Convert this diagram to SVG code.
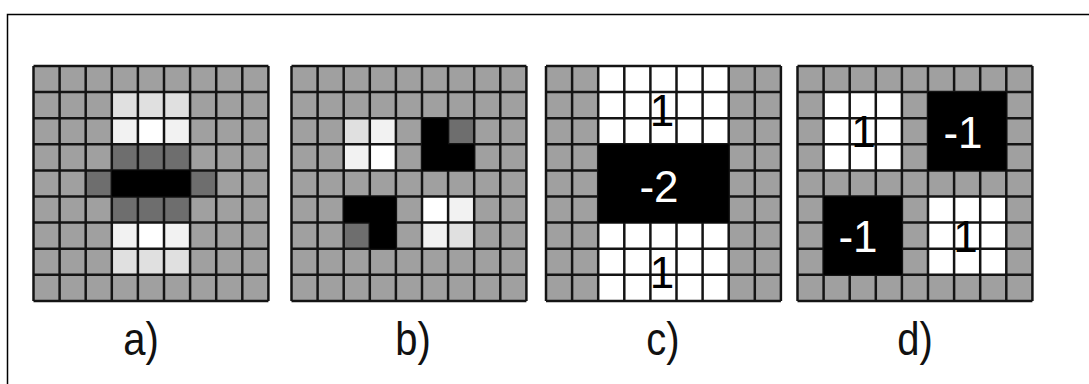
<svg xmlns="http://www.w3.org/2000/svg" xmlns:xlink="http://www.w3.org/1999/xlink" width="1089" height="384" viewBox="0 0 1089 384">
<style>
.bg{fill:#a0a0a0}
.l1{fill:#e0e0e0}
.l2{fill:#f2f2f2}
.w{fill:#ffffff}
.d{fill:#6e6e6e}
.k{fill:#000000}
.grid{fill:none;stroke:#141414;stroke-width:2.5}
.num{font-family:"Liberation Sans",Arial,sans-serif;font-size:44px;text-anchor:middle}
.lab{font-family:"Liberation Sans",Arial,sans-serif;font-size:40px;text-anchor:middle;fill:#111}
</style>
<defs>
<path id="lines" class="grid" d="M0,0V234.9M26.1,0V234.9M52.2,0V234.9M78.3,0V234.9M104.4,0V234.9M130.5,0V234.9M156.6,0V234.9M182.7,0V234.9M208.8,0V234.9M234.9,0V234.9M0,0H234.9M0,26.1H234.9M0,52.2H234.9M0,78.3H234.9M0,104.4H234.9M0,130.5H234.9M0,156.6H234.9M0,182.7H234.9M0,208.8H234.9M0,234.9H234.9"/>
</defs>
<rect width="1089" height="384" fill="#ffffff"/>
<path d="M7.5,384V14.5H1089" fill="none" stroke="#000" stroke-width="1.5"/>

<g id="panel-a" transform="translate(33.5,66)">
<rect class="bg" width="234.9" height="234.9"/>
<rect class="l1" x="78.3" y="26.1" width="78.3" height="26.1"/>
<rect class="l2" x="78.3" y="52.2" width="26.1" height="26.1"/>
<rect class="w" x="104.4" y="52.2" width="26.1" height="26.1"/>
<rect class="l2" x="130.5" y="52.2" width="26.1" height="26.1"/>
<rect class="d" x="78.3" y="78.3" width="78.3" height="26.1"/>
<rect class="d" x="52.2" y="104.4" width="26.1" height="26.1"/>
<rect class="d" x="156.6" y="104.4" width="26.1" height="26.1"/>
<rect class="d" x="78.3" y="130.5" width="78.3" height="26.1"/>
<rect class="l2" x="78.3" y="156.6" width="26.1" height="26.1"/>
<rect class="w" x="104.4" y="156.6" width="26.1" height="26.1"/>
<rect class="l2" x="130.5" y="156.6" width="26.1" height="26.1"/>
<rect class="l1" x="78.3" y="182.7" width="78.3" height="26.1"/>
<use xlink:href="#lines"/>
<rect class="k" x="78.3" y="104.4" width="78.3" height="26.1"/>
</g>
<text class="lab" transform="translate(141,355) scale(1,1.15)">a)</text>

<g id="panel-b" transform="translate(291.5,66)">
<rect class="bg" width="234.9" height="234.9"/>
<rect class="l1" x="52.2" y="52.2" width="26.1" height="26.1"/>
<rect class="l2" x="78.3" y="52.2" width="26.1" height="26.1"/>
<rect class="d" x="156.6" y="52.2" width="26.1" height="26.1"/>
<rect class="l2" x="52.2" y="78.3" width="26.1" height="26.1"/>
<rect class="w" x="78.3" y="78.3" width="26.1" height="26.1"/>
<rect class="w" x="130.5" y="130.5" width="26.1" height="26.1"/>
<rect class="l2" x="156.6" y="130.5" width="26.1" height="26.1"/>
<rect class="d" x="52.2" y="156.6" width="26.1" height="26.1"/>
<rect class="l2" x="130.5" y="156.6" width="26.1" height="26.1"/>
<rect class="l1" x="156.6" y="156.6" width="26.1" height="26.1"/>
<use xlink:href="#lines"/>
<path class="k" d="M130.5,52.2H156.6V78.3H182.7V104.4H130.5Z"/>
<path class="k" d="M52.2,130.5H104.4V182.7H78.3V156.6H52.2Z"/>
</g>
<text class="lab" transform="translate(413,355) scale(1,1.15)">b)</text>

<g id="panel-c" transform="translate(546,66)">
<rect class="bg" width="234.9" height="234.9"/>
<rect class="w" x="52.2" y="0" width="130.5" height="234.9"/>
<use xlink:href="#lines"/>
<rect class="k" x="52.2" y="78.3" width="130.5" height="78.3"/>
<text class="num" x="116" y="60" fill="#000">1</text>
<text class="num" x="113" y="136" fill="#fff" font-size="38">-2</text>
<text class="num" x="116" y="222" fill="#000">1</text>
</g>
<text class="lab" transform="translate(663,355) scale(1,1.15)">c)</text>

<g id="panel-d" transform="translate(797.5,66)">
<rect class="bg" width="234.9" height="234.9"/>
<rect class="w" x="26.1" y="26.1" width="78.3" height="78.3"/>
<rect class="w" x="130.5" y="130.5" width="78.3" height="78.3"/>
<use xlink:href="#lines"/>
<rect class="k" x="130.5" y="26.1" width="78.3" height="78.3"/>
<rect class="k" x="26.1" y="130.5" width="78.3" height="78.3"/>
<text class="num" x="66" y="81" fill="#000">1</text>
<text class="num" x="165.5" y="82" fill="#fff">-1</text>
<text class="num" x="60.5" y="186" fill="#fff">-1</text>
<text class="num" x="168" y="186" fill="#000">1</text>
</g>
<text class="lab" transform="translate(915,355) scale(1,1.15)">d)</text>
</svg>
